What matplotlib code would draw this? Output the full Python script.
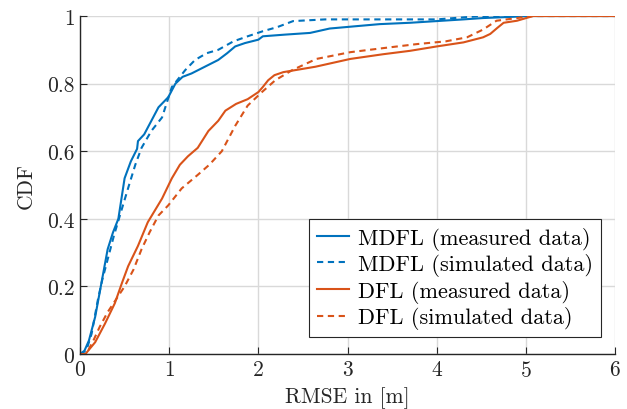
import numpy as np
import matplotlib.pyplot as plt

plt.rcParams['font.family'] = ['cmr10', 'DejaVu Serif']
plt.rcParams['axes.formatter.use_mathtext'] = True
plt.rcParams['mathtext.fontset'] = 'cm'

# empirical CDF curves of the localization error
mdfl_meas_x = [0.0, 0.05, 0.10, 0.17, 0.24, 0.31, 0.37, 0.43, 0.50, 0.57, 0.64, 0.65, 0.72, 0.80, 0.88,
               0.99, 1.07, 1.15, 1.25, 1.40, 1.55, 1.65, 1.74, 1.85, 2.0, 2.05, 2.3, 2.58, 2.8, 3.1,
               3.36, 3.7, 4.0, 4.3, 4.52, 4.8, 5.05, 6.0]
mdfl_meas_y = [0.0, 0.01, 0.04, 0.11, 0.21, 0.31, 0.36, 0.40, 0.52, 0.57, 0.607, 0.63, 0.65, 0.69, 0.73,
               0.76, 0.80, 0.82, 0.83, 0.85, 0.87, 0.89, 0.91, 0.92, 0.93, 0.94, 0.945, 0.95, 0.963, 0.97,
               0.976, 0.98, 0.985, 0.99, 0.994, 0.997, 1.0, 1.0]

mdfl_sim_x = [0.0, 0.07, 0.13, 0.20, 0.25, 0.31, 0.38, 0.47, 0.55, 0.62, 0.69, 0.80, 0.92, 1.03,
              1.18, 1.29, 1.42, 1.55, 1.72, 1.88, 2.05, 2.21, 2.39, 2.75, 3.2, 4.0, 4.5, 6.0]
mdfl_sim_y = [0.0, 0.01, 0.06, 0.16, 0.22, 0.28, 0.35, 0.43, 0.50, 0.56, 0.61, 0.66, 0.70, 0.79,
              0.84, 0.87, 0.89, 0.90, 0.925, 0.94, 0.955, 0.967, 0.985, 0.99, 0.99, 0.99, 1.0, 1.0]

dfl_meas_x = [0.0, 0.06, 0.17, 0.28, 0.39, 0.47, 0.54, 0.65, 0.76, 0.92, 1.03, 1.12, 1.21, 1.32,
              1.44, 1.55, 1.63, 1.75, 1.88, 2.0, 2.05, 2.11, 2.18, 2.28, 2.64, 3.03, 3.4, 3.7,
              4.0, 4.3, 4.52, 4.6, 4.68, 4.75, 4.9, 5.08, 6.0]
dfl_meas_y = [0.0, 0.0, 0.035, 0.09, 0.15, 0.21, 0.26, 0.32, 0.39, 0.46, 0.52, 0.56, 0.585, 0.61,
              0.66, 0.69, 0.72, 0.74, 0.754, 0.775, 0.79, 0.81, 0.825, 0.834, 0.85, 0.873, 0.887, 0.897,
              0.91, 0.922, 0.937, 0.947, 0.965, 0.98, 0.986, 1.0, 1.0]

dfl_sim_x = [0.0, 0.07, 0.15, 0.22, 0.31, 0.40, 0.50, 0.60, 0.69, 0.78, 0.88, 0.99, 1.14, 1.32,
             1.45, 1.59, 1.74, 1.88, 2.04, 2.19, 2.38, 2.65, 3.03, 3.4, 3.78, 4.1, 4.34, 4.52,
             4.67, 4.9, 5.08, 6.0]
dfl_sim_y = [0.0, 0.0, 0.04, 0.08, 0.124, 0.16, 0.20, 0.25, 0.31, 0.36, 0.41, 0.44, 0.49, 0.53,
             0.56, 0.60, 0.675, 0.735, 0.775, 0.81, 0.84, 0.873, 0.893, 0.905, 0.917, 0.925, 0.937, 0.96,
             0.986, 0.994, 1.0, 1.0]

blue = '#0072BD'
orange = '#D95319'
ink = '#262626'
fs = 15.5

fig = plt.figure(figsize=(6.27, 4.10), dpi=100)
ax = fig.add_axes([0.1276, 0.134, 0.8534, 0.8245])

ax.plot(mdfl_meas_x, mdfl_meas_y, color=blue, lw=1.5, label='MDFL (measured data)')
ax.plot(mdfl_sim_x, mdfl_sim_y, color=blue, lw=1.5, ls=(0, (3, 2.2)), label='MDFL (simulated data)')
ax.plot(dfl_meas_x, dfl_meas_y, color=orange, lw=1.5, label='DFL (measured data)')
ax.plot(dfl_sim_x, dfl_sim_y, color=orange, lw=1.5, ls=(0, (3, 2.2)), label='DFL (simulated data)')

ax.set_xlim(0, 6)
ax.set_ylim(0, 1)
ax.set_xticks(range(0, 7))
ax.set_yticks([0, 0.2, 0.4, 0.6, 0.8, 1])
ax.set_yticklabels(['0', '0.2', '0.4', '0.6', '0.8', '1'])
ax.grid(True, color='#d9d9d9', lw=1.0)
ax.set_axisbelow(True)
for s in ['top', 'right']:
    ax.spines[s].set_visible(False)
for s in ['left', 'bottom']:
    ax.spines[s].set_color(ink)
    ax.spines[s].set_linewidth(1.0)
ax.tick_params(direction='in', length=5, width=0.8, color=ink, labelsize=fs, labelcolor=ink, pad=4)

ax.set_xlabel('RMSE in [m]', fontsize=fs, color=ink, labelpad=5)
ax.set_ylabel('CDF', fontsize=fs, color=ink, labelpad=8)

leg = ax.legend(loc='lower right', bbox_to_anchor=(0.973, 0.05), fontsize=16, frameon=True,
                fancybox=False, edgecolor=ink, framealpha=1, handlelength=1.45,
                borderpad=0.35, labelspacing=0.16, handletextpad=0.4, borderaxespad=0)
leg.get_frame().set_linewidth(0.8)

fig.savefig('out.png', dpi=100)
